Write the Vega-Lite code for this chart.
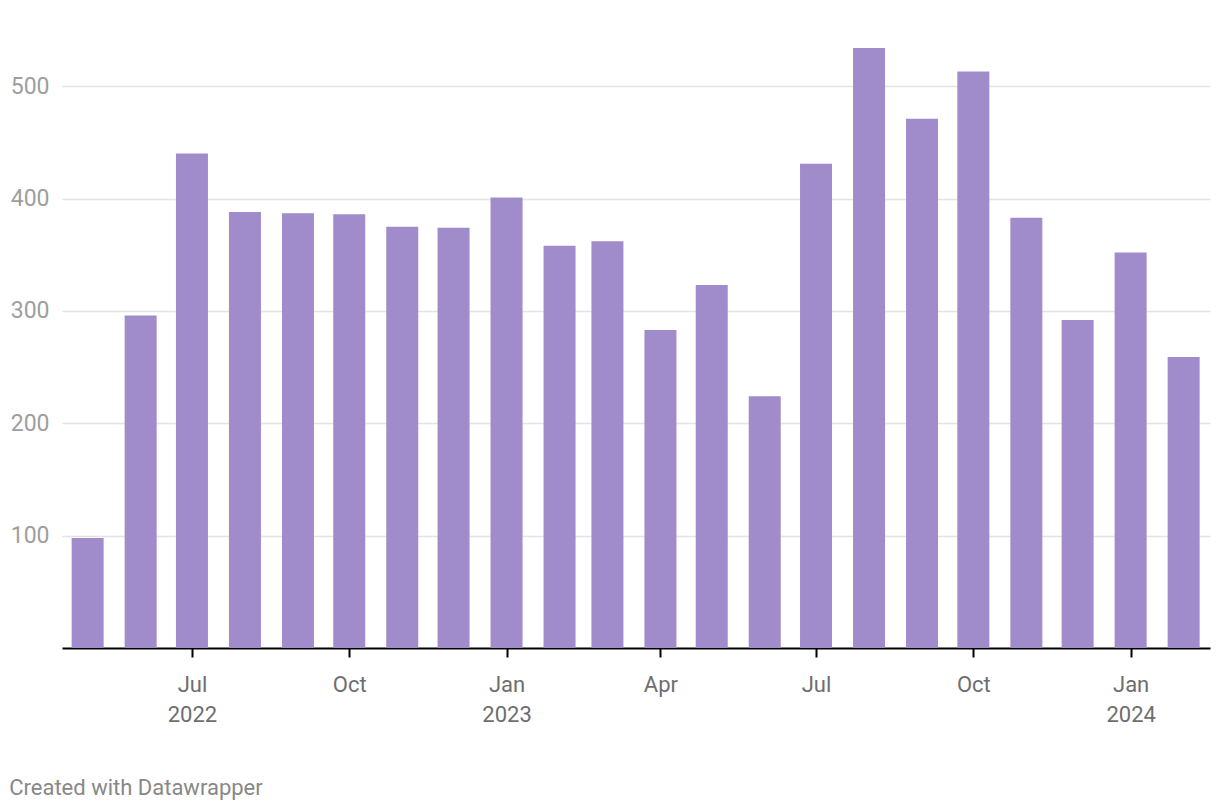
{
  "$schema": "https://vega.github.io/schema/vega-lite/v6.json",
  "width": 1148,
  "height": 618,
  "autosize": "none",
  "padding": {"left": 62, "top": 30, "right": 10, "bottom": 162},
  "background": "white",
  "config": {
    "font": "Roboto",
    "view": {"stroke": null},
    "title": {"font": "Roboto"}
  },
  "title": {
    "text": "Created with Datawrapper",
    "orient": "bottom",
    "anchor": "start",
    "frame": "bounds",
    "fontSize": 22,
    "fontWeight": "normal",
    "color": "#888888",
    "offset": 53,
    "dx": -1
  },
  "data": {
    "values": [
      {"date": "2022-05-01", "value": 98},
      {"date": "2022-06-01", "value": 296},
      {"date": "2022-07-01", "value": 440},
      {"date": "2022-08-01", "value": 388},
      {"date": "2022-09-01", "value": 387},
      {"date": "2022-10-01", "value": 386},
      {"date": "2022-11-01", "value": 375},
      {"date": "2022-12-01", "value": 374},
      {"date": "2023-01-01", "value": 401},
      {"date": "2023-02-01", "value": 358},
      {"date": "2023-03-01", "value": 362},
      {"date": "2023-04-01", "value": 283},
      {"date": "2023-05-01", "value": 323},
      {"date": "2023-06-01", "value": 224},
      {"date": "2023-07-01", "value": 431},
      {"date": "2023-08-01", "value": 534},
      {"date": "2023-09-01", "value": 471},
      {"date": "2023-10-01", "value": 513},
      {"date": "2023-11-01", "value": 383},
      {"date": "2023-12-01", "value": 292},
      {"date": "2024-01-01", "value": 352},
      {"date": "2024-02-01", "value": 259}
    ]
  },
  "mark": {"type": "bar", "width": 32, "color": "#a08bcb"},
  "encoding": {
    "x": {
      "field": "date",
      "type": "temporal",
      "scale": {
        "type": "utc",
        "padding": 0,
        "domain": [
          {"year": 2022, "month": 4, "date": 16, "utc": true},
          {"year": 2024, "month": 2, "date": 16, "hours": 10, "utc": true}
        ]
      },
      "axis": {
        "title": null,
        "values": [
          {"year": 2022, "month": 7, "date": 1, "utc": true},
          {"year": 2022, "month": 10, "date": 1, "utc": true},
          {"year": 2023, "month": 1, "date": 1, "utc": true},
          {"year": 2023, "month": 4, "date": 1, "utc": true},
          {"year": 2023, "month": 7, "date": 1, "utc": true},
          {"year": 2023, "month": 10, "date": 1, "utc": true},
          {"year": 2024, "month": 1, "date": 1, "utc": true}
        ],
        "labelExpr": "(utcFormat(datum.value,'%m')=='01' || utcFormat(datum.value,'%Y-%m')=='2022-07') ? [utcFormat(datum.value,'%b'), utcFormat(datum.value,'%Y')] : utcFormat(datum.value,'%b')",
        "grid": false,
        "domainColor": "#000000",
        "domainWidth": 2,
        "tickColor": "#000000",
        "tickWidth": 2,
        "tickSize": 9,
        "labelPadding": 17,
        "labelFontSize": 22,
        "labelColor": "#6e6e6e",
        "labelLineHeight": 30,
        "labelFlush": false,
        "labelOverlap": false
      }
    },
    "y": {
      "field": "value",
      "type": "quantitative",
      "scale": {"domain": [0, 550], "nice": false},
      "axis": {
        "title": null,
        "values": [100, 200, 300, 400, 500],
        "domain": false,
        "ticks": false,
        "tickSize": 0,
        "labelPadding": 13,
        "labelFontSize": 23,
        "labelColor": "#9e9e9e",
        "gridColor": "#e4e4e4",
        "gridWidth": 1.5
      }
    }
  }
}
